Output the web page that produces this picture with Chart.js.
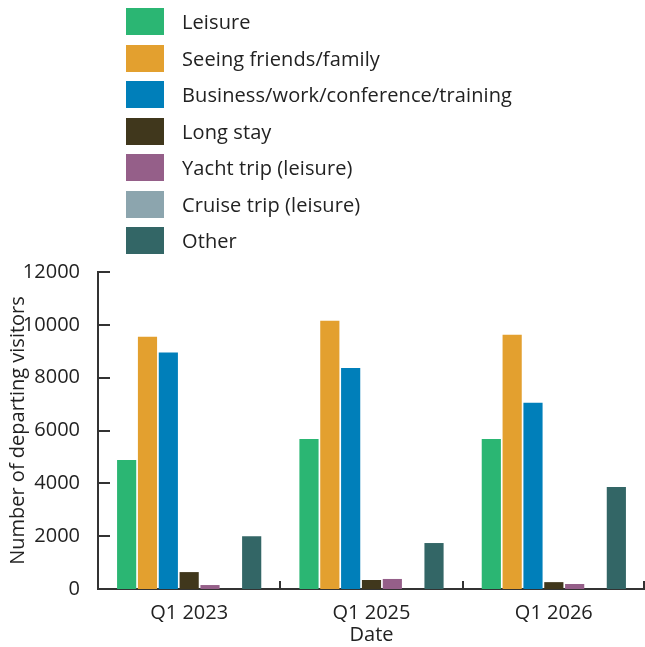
<!DOCTYPE html>
<html>
<head>
<meta charset="utf-8">
<script src="https://cdn.jsdelivr.net/npm/chart.js@4"></script>
<style>
  body { margin: 0; background: #fff; }
  .wrap { position: relative; width: 645px; height: 647px; }
  #legend { position: absolute; left: 126px; top: 8px; font-family: 'Open Sans', sans-serif; font-size: 20px; letter-spacing: 0.1px; color: #222; }
  #legend .row { display: flex; align-items: center; height: 27px; margin-bottom: 9.5px; }
  #legend .box { width: 38px; height: 27px; margin-right: 18px; }
</style>
</head>
<body>
<div class="wrap">
  <canvas id="chart" width="645" height="647"></canvas>
  <div id="legend"></div>
</div>
<script>
const categories = ['Q1 2023', 'Q1 2025', 'Q1 2026'];

const leisure = [4880, 5680, 5680];
const friendsFamily = [9550, 10150, 9620];
const business = [8950, 8370, 7050];
const longStay = [640, 340, 260];
const yacht = [150, 380, 190];
const cruise = [0, 0, 0];
const other = [2000, 1740, 3860];

const seriesNames = ['Leisure', 'Seeing friends/family', 'Business/work/conference/training', 'Long stay', 'Yacht trip (leisure)', 'Cruise trip (leisure)', 'Other'];
const seriesColors = ['#2bb673', '#e3a02f', '#007fba', '#40371c', '#955f89', '#8ca5ae', '#336666'];
const seriesValues = [leisure, friendsFamily, business, longStay, yacht, cruise, other];

const yTicks = [0, 2000, 4000, 6000, 8000, 10000, 12000];

const textColor = '#222';
const font = { family: "'Open Sans', sans-serif", size: 20 };

// legend, one entry per row like the original
const legend = document.getElementById('legend');
seriesNames.forEach((name, i) => {
  const row = document.createElement('div');
  row.className = 'row';
  row.innerHTML = '<span class="box" style="background:' + seriesColors[i] + '"></span><span>' + name + '</span>';
  legend.appendChild(row);
});

// ticks that point into the plot area
const innerTicks = {
  id: 'innerTicks',
  afterDraw(chart) {
    const { ctx, scales: { y }, chartArea } = chart;
    ctx.save();
    ctx.strokeStyle = '#333';
    ctx.lineWidth = 2;
    ctx.beginPath();
    yTicks.forEach((v) => {
      const py = Math.round(y.getPixelForValue(v));
      ctx.moveTo(chartArea.left, py);
      ctx.lineTo(chartArea.left + 12, py);
    });
    for (let i = 1; i <= categories.length; i++) {
      const px = Math.min(Math.round(chartArea.left + (chartArea.right - chartArea.left) * i / categories.length), chartArea.right - 1);
      ctx.moveTo(px, chartArea.bottom);
      ctx.lineTo(px, chartArea.bottom - 8);
    }
    ctx.stroke();
    ctx.restore();
  }
};

new Chart(document.getElementById('chart'), {
  type: 'bar',
  data: {
    labels: categories,
    datasets: seriesNames.map((name, i) => ({
      label: name,
      data: seriesValues[i],
      backgroundColor: seriesColors[i],
      barPercentage: 0.92,
      categoryPercentage: 0.8,
    })),
  },
  options: {
    responsive: false,
    animation: false,
    layout: { padding: { top: 272, right: 0, left: 0, bottom: 0 } },
    plugins: {
      legend: { display: false },
      tooltip: { enabled: false },
    },
    scales: {
      x: {
        afterFit: (scale) => { scale.height = 58; },
        grid: { display: false },
        border: { display: true, color: '#333', width: 2 },
        ticks: { color: textColor, font, padding: 4 },
        title: { display: true, text: 'Date', color: textColor, font, padding: { top: 0, bottom: 0 } },
      },
      y: {
        min: 0,
        max: 12000,
        afterBuildTicks: (scale) => { scale.ticks = yTicks.map((v) => ({ value: v })); },
        afterFit: (scale) => { scale.width = 98; },
        grid: { display: false },
        border: { display: true, color: '#333', width: 2 },
        ticks: { color: textColor, font, padding: 10, callback: (v) => String(v) },
        title: { display: true, text: 'Number of departing visitors', color: textColor, font, padding: { top: 6, bottom: 0 } },
      },
    },
  },
  plugins: [innerTicks],
});
</script>
</body>
</html>
